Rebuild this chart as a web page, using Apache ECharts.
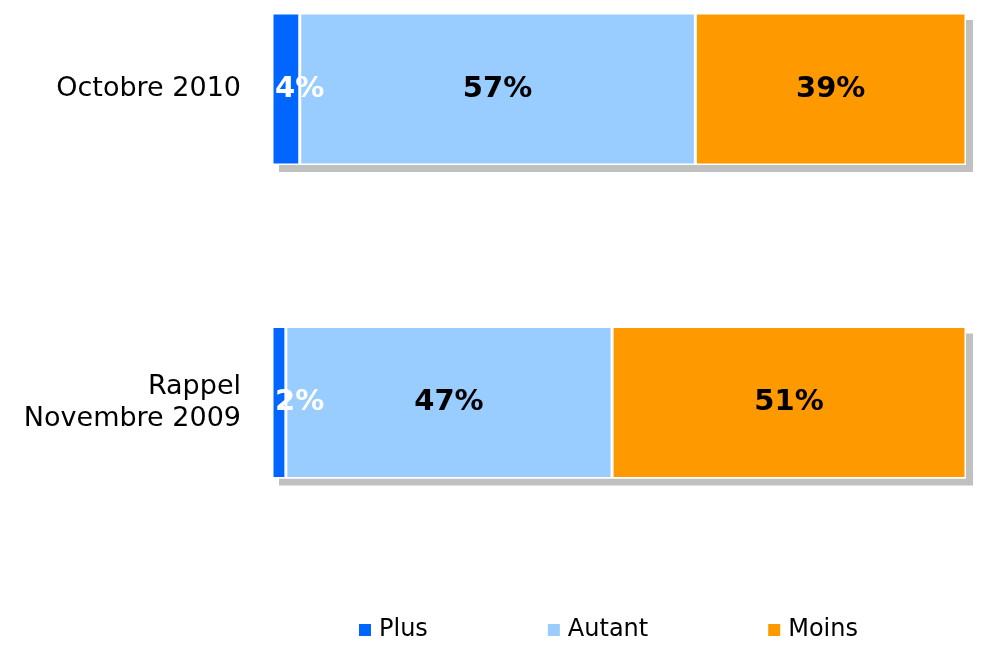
<!DOCTYPE html>
<html>
<head>
<meta charset="utf-8">
<style>
  html, body { margin: 0; padding: 0; background: #fff; }
  #main { width: 983px; height: 649px; }
</style>
<script src="https://cdn.jsdelivr.net/npm/echarts@6/dist/echarts.min.js"></script>
</head>
<body>
<div id="main"></div>
<script>
var categories = ['Octobre 2010', 'Rappel\nNovembre 2009'];
var seriesNames = ['Plus', 'Autant', 'Moins'];
var plusData = [4, 2];
var autantData = [57, 47];
var moinsData = [39, 51];

var colors = ['#0066FF', '#99CCFF', '#FF9900'];
var font = '"DejaVu Sans", Verdana, sans-serif';

// totals, used only for the grey drop shadow behind each bar
var totals = plusData.map(function (v, i) { return v + autantData[i] + moinsData[i]; });

var myChart = echarts.init(document.getElementById('main'));

function makeSeries(name, data, color, labelColor, pos) {
    return {
        name: name,
        type: 'bar',
        stack: 'total',
        barWidth: 152,
        clip: false,
        z: 3,
        data: data,
        itemStyle: {
            color: color,
            borderColor: '#fff',
            borderWidth: 1.5
        },
        label: {
            show: true,
            position: pos,
            distance: 3,
            formatter: '{c}%',
            color: labelColor,
            fontFamily: font,
            fontWeight: 'bold',
            fontSize: 29
        },
        emphasis: { disabled: true }
    };
}

var option = {
    animation: false,
    grid: { left: 272, right: 17, top: 89, bottom: 246.5 },
    legend: {
        data: seriesNames,
        left: 352,
        top: 613,
        itemWidth: 14,
        itemHeight: 14,
        itemGap: 118,
        icon: 'rect',
        textStyle: {
            fontFamily: font,
            fontSize: 24,
            color: '#000',
            padding: [0, 0, 0, 2]
        }
    },
    xAxis: {
        type: 'value',
        min: 0,
        max: 100,
        show: false
    },
    yAxis: {
        type: 'category',
        data: categories,
        inverse: true,
        boundaryGap: false,
        axisLine: { show: false },
        axisTick: { show: false },
        splitLine: { show: false },
        axisLabel: {
            margin: 31,
            color: '#000',
            fontFamily: font,
            fontSize: 27,
            lineHeight: 32,
            align: 'right'
        }
    },
    series: [
        {
            name: 'ombre',
            type: 'bar',
            barWidth: 152,
            barGap: '-100%',
            clip: false,
            z: 1,
            silent: true,
            data: totals,
            itemStyle: {
                color: '#fff',
                shadowColor: '#C0C0C0',
                shadowBlur: 0,
                shadowOffsetX: 7,
                shadowOffsetY: 7
            },
            emphasis: { disabled: true }
        },
        makeSeries('Plus', plusData, colors[0], '#fff', 'insideLeft'),
        makeSeries('Autant', autantData, colors[1], '#000', 'inside'),
        makeSeries('Moins', moinsData, colors[2], '#000', 'inside')
    ]
};

myChart.setOption(option);
</script>
</body>
</html>
